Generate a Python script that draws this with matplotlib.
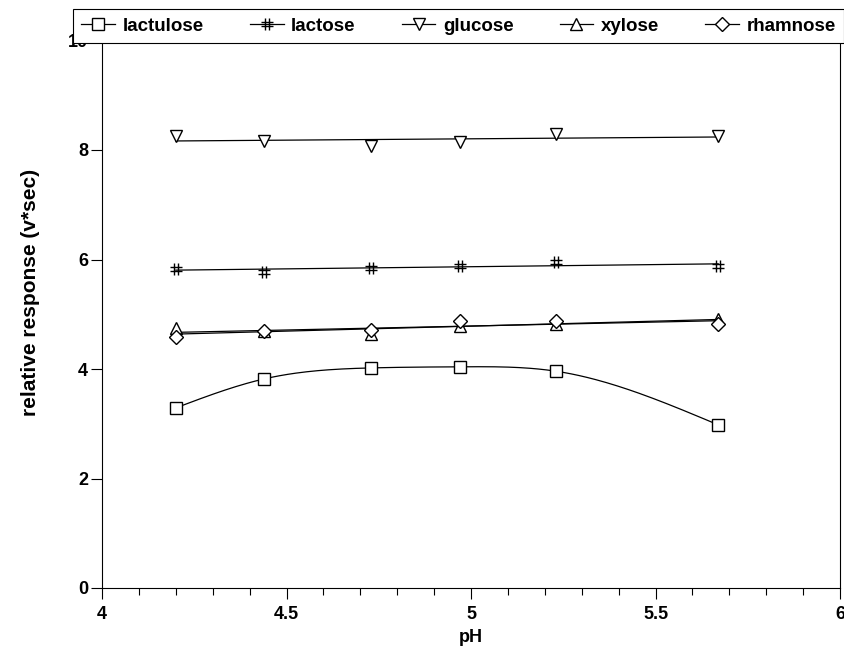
import numpy as np
import matplotlib
matplotlib.use("Agg")
import matplotlib.pyplot as plt
from matplotlib.path import Path
from matplotlib.ticker import MultipleLocator

plt.rcParams['font.family'] = ['Liberation Sans', 'DejaVu Sans']
plt.rcParams['font.weight'] = 'bold'

ph = [4.2, 4.44, 4.73, 4.97, 5.23, 5.67]
lactulose = [3.29, 3.82, 4.02, 4.04, 3.96, 2.98]
lactose = [5.83, 5.77, 5.84, 5.88, 5.95, 5.88]
glucose = [8.26, 8.16, 8.07, 8.15, 8.29, 8.26]
xylose = [4.74, 4.70, 4.64, 4.78, 4.82, 4.92]
rhamnose = [4.58, 4.69, 4.71, 4.88, 4.88, 4.82]


def spline(x, y, n=200):
    # natural cubic spline through the points
    x = np.asarray(x, float)
    y = np.asarray(y, float)
    k = len(x)
    h = np.diff(x)
    A = np.zeros((k, k))
    b = np.zeros(k)
    A[0, 0] = A[-1, -1] = 1
    for i in range(1, k - 1):
        A[i, i - 1] = h[i - 1]
        A[i, i] = 2 * (h[i - 1] + h[i])
        A[i, i + 1] = h[i]
        b[i] = 6 * ((y[i + 1] - y[i]) / h[i] - (y[i] - y[i - 1]) / h[i - 1])
    m = np.linalg.solve(A, b)
    xs = np.linspace(x[0], x[-1], n)
    idx = np.clip(np.searchsorted(x, xs) - 1, 0, k - 2)
    x0, x1 = x[idx], x[idx + 1]
    hh = x1 - x0
    t0, t1 = x1 - xs, xs - x0
    ys = (m[idx] * t0**3 + m[idx + 1] * t1**3) / (6 * hh) \
        + (y[idx] / hh - m[idx] * hh / 6) * t0 \
        + (y[idx + 1] / hh - m[idx + 1] * hh / 6) * t1
    return xs, ys


# upright "#" marker
hash_marker = Path(
    [(-1, 0.35), (1, 0.35), (-1, -0.35), (1, -0.35),
     (-0.35, 1), (-0.35, -1), (0.35, 1), (0.35, -1)],
    [Path.MOVETO, Path.LINETO] * 4)

fig = plt.figure(figsize=(8.44, 6.46), dpi=100, facecolor="#FFFFFF")
ax = fig.add_axes([102 / 844, 1 - 588 / 646, 738 / 844, 547.5 / 646])

mk = dict(markerfacecolor='white', markeredgecolor='black', markeredgewidth=1.0,
          color='black', linestyle='none')
lw = 0.9

# lactulose: smooth curve through points
xs, ys = spline(ph, lactulose)
ax.plot(xs, ys, color='black', linewidth=lw)
ax.plot(ph, lactulose, marker='s', markersize=8.5, **mk)

# others: straight fit lines
markers = [('s', 8.5), (hash_marker, 9), ('v', 8), ('^', 8), ('D', 7)]
series = [lactose, glucose, xylose, rhamnose]
xfit = np.array([ph[0], ph[-1]])
for vals, (m, ms) in zip(series, markers[1:]):
    p = np.polyfit(ph, vals, 1)
    ax.plot(xfit, np.polyval(p, xfit), color='black', linewidth=lw)
    ax.plot(ph, vals, marker=m, markersize=ms, **mk)

ax.set_xlim(4, 6)
ax.set_ylim(0, 10)
ax.xaxis.set_minor_locator(MultipleLocator(0.1))
ax.yaxis.set_major_locator(MultipleLocator(2))
ax.set_xticks([4, 4.5, 5, 5.5, 6])
ax.set_xticklabels(['4', '4.5', '5', '5.5', '6'])
ax.tick_params(axis='both', which='major', length=8, width=0.8, labelsize=13,
               direction='out', pad=2)
ax.tick_params(axis='x', which='minor', length=5, width=0.8, direction='out')
ax.tick_params(axis='x', which='major', pad=5)
ax.set_xlabel('pH', fontsize=13, fontweight='bold', labelpad=4)
ax.set_ylabel('relative response (v*sec)', fontsize=15, fontweight='bold')
ax.yaxis.set_label_coords(-62 / 738, 0.54)
for s in ax.spines.values():
    s.set_linewidth(0.8)

# legend
labels = ['lactulose', 'lactose', 'glucose', 'xylose', 'rhamnose']
handles = [plt.Line2D([], [], color='black', linewidth=lw, marker=m, markersize=ms,
                      markerfacecolor='white', markeredgecolor='black')
           for m, ms in markers]
leg = fig.legend(handles, labels, ncol=5, loc='lower left',
                 bbox_to_anchor=(73 / 844, 1 - 43 / 646, 771 / 844, 33 / 646),
                 mode='expand', frameon=True, fancybox=False, edgecolor='black',
                 framealpha=1, prop={'weight': 'bold', 'size': 13.5},
                 handlelength=1.8, handletextpad=0.4, borderaxespad=0, borderpad=0.45)
leg.get_frame().set_linewidth(0.8)

fig.savefig('out.png', dpi=100)
